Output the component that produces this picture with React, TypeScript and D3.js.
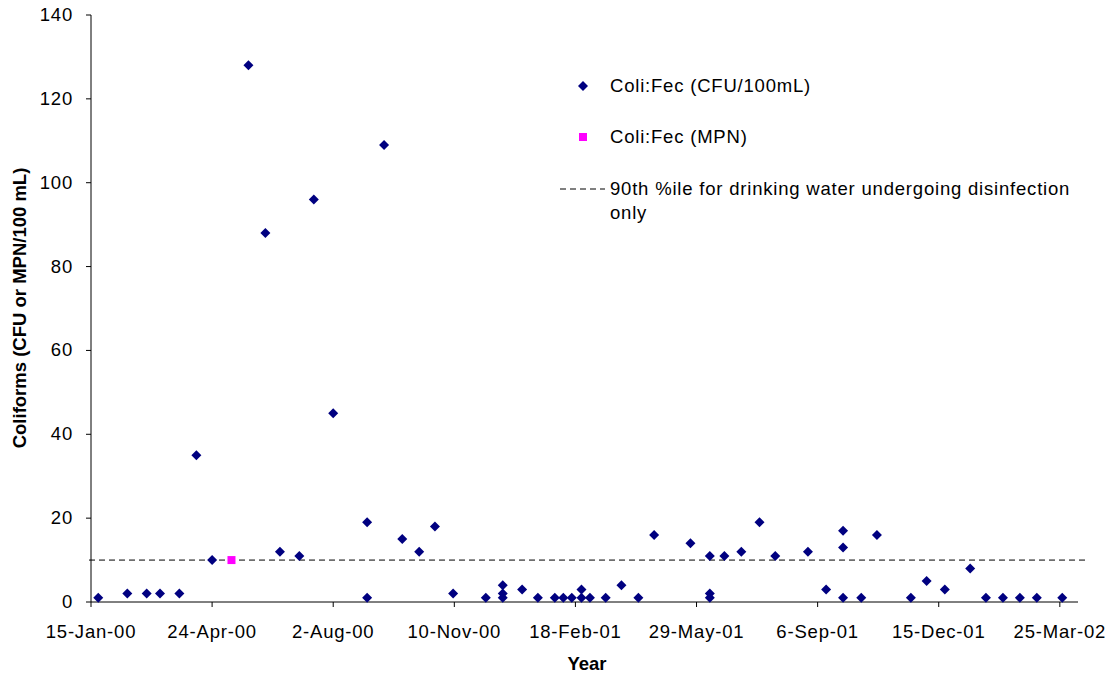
import React from "react";
import * as d3 from "d3";

const tickLabels = ["15-Jan-00","24-Apr-00","2-Aug-00","10-Nov-00","18-Feb-01","29-May-01","6-Sep-01","15-Dec-01","25-Mar-02"];
const cfuDays = [6,30,46,57,73,87,100,130,144,156,172,184,200,228,228,242,257,271,284,299,326,340,340,340,356,369,383,390,397,405,405,412,425,438,452,465,495,511,511,511,523,537,552,565,592,607,621,621,621,636,649,677,690,705,726,739,753,767,781,802];
const cfuVals = [1,2,2,2,2,35,10,128,88,12,11,96,45,19,1,109,15,12,18,2,1,4,2,1,3,1,1,1,1,3,1,1,1,4,1,16,14,11,2,1,11,12,19,11,12,3,17,13,1,1,16,1,5,3,8,1,1,1,1,1];
const mpnDays = [116];
const mpnVals = [10];
const threshold = 10;
const yTicks = [0,20,40,60,80,100,120,140];

export default function App() {
  const x = d3.scaleLinear().domain([0, 815]).range([91, 1078]);
  const y = d3.scaleLinear().domain([0, 140]).range([602, 15]);
  const font = "'Liberation Sans', Arial, sans-serif";
  const sq = d3.symbol().type(d3.symbolSquare).size(50)() as string;
  const square = d3.symbol().type(d3.symbolSquare).size(64)() as string;
  const fs = 18.5, ls = 0.8;
  return (
    <svg width={1120} height={681} style={{ position: "absolute", left: 0, top: 0 }} fontFamily={font}>
      <rect width={1120} height={681} fill="#fff" />
      <line x1={x(0)} x2={x(0)} y1={y(140)} y2={y(0)} stroke="#000" />
      {yTicks.map(t => (
        <g key={t}>
          <line x1={x(0) - 5} x2={x(0)} y1={y(t)} y2={y(t)} stroke="#000" />
          <text x={x(0) - 18} y={y(t) + 6} textAnchor="end" fontSize={fs} letterSpacing={ls}>{t}</text>
        </g>
      ))}
      <line x1={x(0)} x2={x(815)} y1={y(0)} y2={y(0)} stroke="#000" />
      {tickLabels.map((l, i) => (
        <g key={l}>
          <line x1={x(i * 100)} x2={x(i * 100)} y1={y(0)} y2={y(0) + 5} stroke="#000" />
          <text x={x(i * 100)} y={638} textAnchor="middle" fontSize={fs} letterSpacing={ls}>{l}</text>
        </g>
      ))}
      <line x1={x(0) - 2} x2={1085} y1={y(threshold)} y2={y(threshold)} stroke="#000" strokeDasharray="6,4" />
      {cfuDays.map((d, i) => (
        <path key={i} d={sq} transform={`translate(${x(d)},${y(cfuVals[i])}) rotate(45)`} fill="#000080" />
      ))}
      {mpnDays.map((d, i) => (
        <path key={i} d={square} transform={`translate(${x(d)},${y(mpnVals[i])})`} fill="#FF00FF" />
      ))}
      <text x={587} y={670} textAnchor="middle" fontSize={fs} fontWeight="bold">Year</text>
      <text transform="translate(26,308) rotate(-90)" textAnchor="middle" fontSize={fs} fontWeight="bold">Coliforms (CFU or MPN/100 mL)</text>
      <path d={sq} transform="translate(583,86) rotate(45)" fill="#000080" />
      <text x={610} y={92} fontSize={fs} letterSpacing={ls}>Coli:Fec (CFU/100mL)</text>
      <path d={square} transform="translate(583,137)" fill="#FF00FF" />
      <text x={610} y={143} fontSize={fs} letterSpacing={ls}>Coli:Fec (MPN)</text>
      <line x1={560} x2={605} y1={189} y2={189} stroke="#000" strokeDasharray="6,4" />
      <text x={610} y={195} fontSize={fs} letterSpacing={ls}>90th %ile for drinking water undergoing disinfection</text>
      <text x={610} y={219} fontSize={fs} letterSpacing={ls}>only</text>
    </svg>
  );
}
